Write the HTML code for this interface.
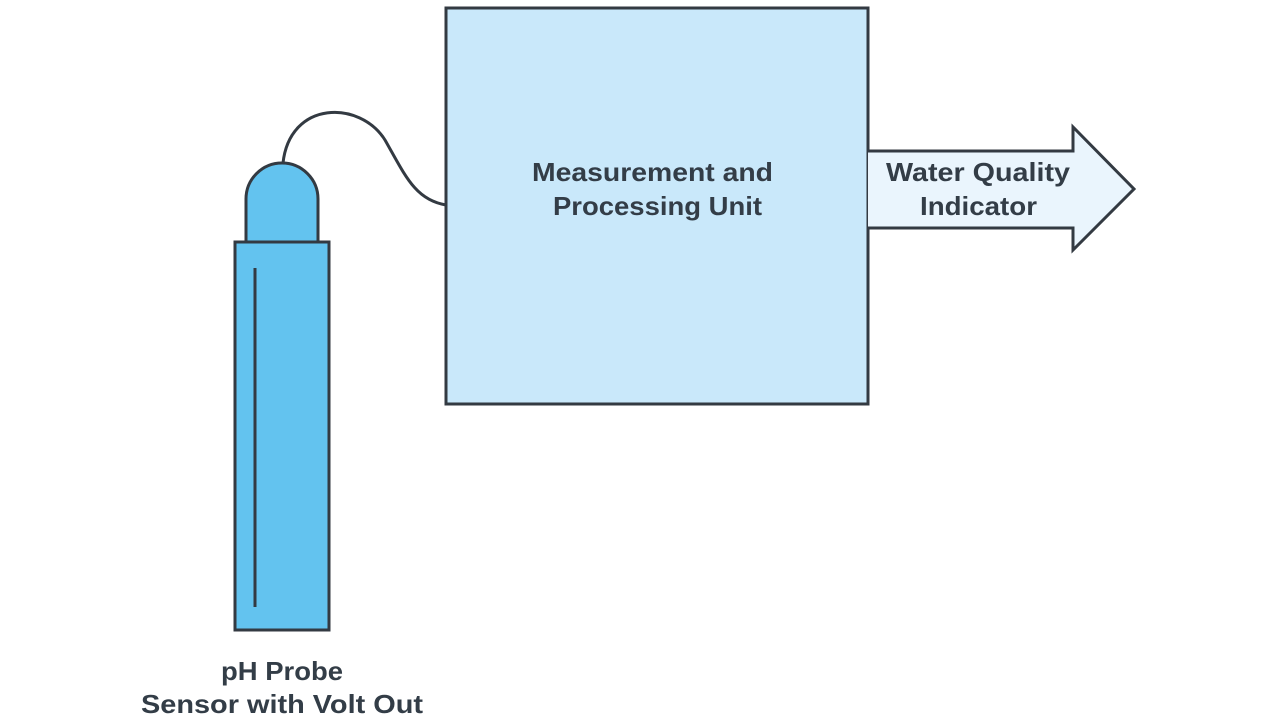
<!DOCTYPE html>
<html><head><style>
body{margin:0;background:#fff;width:1280px;height:721px;overflow:hidden}
svg{display:block}
text{font-family:"Liberation Sans",sans-serif;font-weight:bold;font-size:26px;fill:#333d47}
</style></head><body>
<svg width="1280" height="721" viewBox="0 0 1280 721">
<rect x="446" y="8" width="422" height="396" fill="#c9e8fa" stroke="#333a42" stroke-width="3"/>
<path d="M868 151 H1073 V127 L1134 189 L1073 250 V228 H868" fill="#eaf5fd" stroke="#333a42" stroke-width="3"/>
<path d="M283 163 C290 100 360 100 385 140 C405 175 415 200 446 205" fill="none" stroke="#333a42" stroke-width="3"/>
<path d="M246 242 V199 A36 36 0 0 1 318 199 V242 Z" fill="#63c3ef" stroke="#333a42" stroke-width="3"/>
<rect x="235" y="242" width="94" height="388" fill="#63c3ef" stroke="#333a42" stroke-width="3"/>
<line x1="255" y1="268" x2="255" y2="607" stroke="#333a42" stroke-width="3"/>
<text x="532" y="181" textLength="241" lengthAdjust="spacingAndGlyphs">Measurement and</text>
<text x="553" y="215" textLength="209" lengthAdjust="spacingAndGlyphs">Processing Unit</text>
<text x="886" y="181" textLength="184" lengthAdjust="spacingAndGlyphs">Water Quality</text>
<text x="920" y="215" textLength="117" lengthAdjust="spacingAndGlyphs">Indicator</text>
<text x="221" y="680" textLength="122" lengthAdjust="spacingAndGlyphs">pH Probe</text>
<text x="141" y="713" textLength="282" lengthAdjust="spacingAndGlyphs">Sensor with Volt Out</text>
</svg>
</body></html>
